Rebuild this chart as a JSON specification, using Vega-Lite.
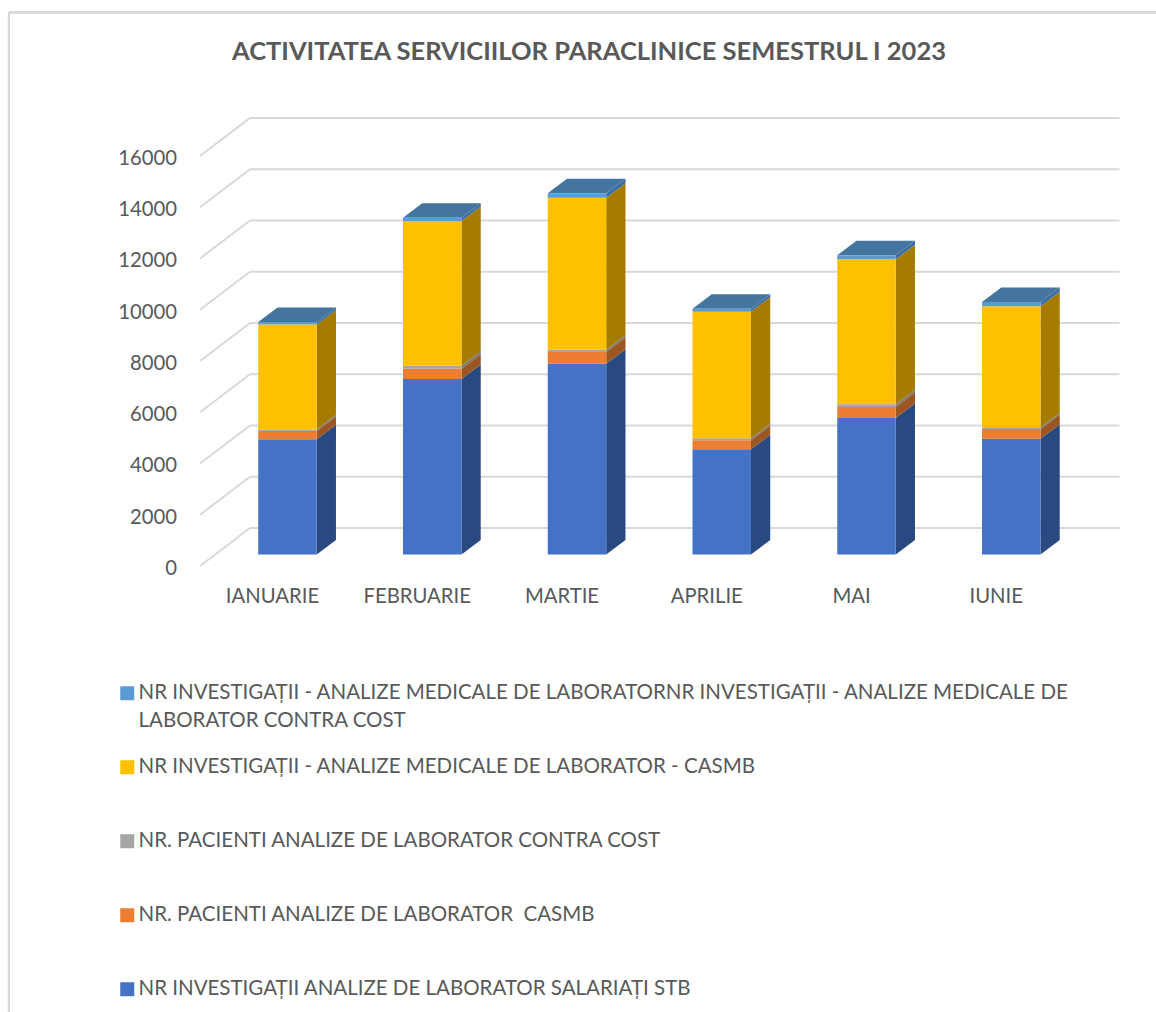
{
"$schema":"https://vega.github.io/schema/vega-lite/v6.json",
"width":1156,"height":1012,"padding":0,"autosize":{"type":"none"},
"background":"white",
"config":{"view":{"stroke":null},"font":"Lato"},
"title":{"text":"ACTIVITATEA SERVICIILOR PARACLINICE SEMESTRUL I 2023","font":"Lato","fontSize":25.5,"fontWeight":"bold","color":"#595959","anchor":"middle","dx":11,"offset":-65},
"datasets":{
"rows":[
{"luna":"IANUARIE","serie":"SALARIATI","valoare":4495},{"luna":"IANUARIE","serie":"CASMB_P","valoare":324},{"luna":"IANUARIE","serie":"COST_P","valoare":60},{"luna":"IANUARIE","serie":"CASMB_I","valoare":4090},{"luna":"IANUARIE","serie":"COST_I","valoare":105},
{"luna":"FEBRUARIE","serie":"SALARIATI","valoare":6847},{"luna":"FEBRUARIE","serie":"CASMB_P","valoare":402},{"luna":"FEBRUARIE","serie":"COST_P","valoare":117},{"luna":"FEBRUARIE","serie":"CASMB_I","valoare":5646},{"luna":"FEBRUARIE","serie":"COST_I","valoare":129},
{"luna":"MARTIE","serie":"SALARIATI","valoare":7444},{"luna":"MARTIE","serie":"CASMB_P","valoare":456},{"luna":"MARTIE","serie":"COST_P","valoare":90},{"luna":"MARTIE","serie":"CASMB_I","valoare":5930},{"luna":"MARTIE","serie":"COST_I","valoare":172},
{"luna":"APRILIE","serie":"SALARIATI","valoare":4105},{"luna":"APRILIE","serie":"CASMB_P","valoare":351},{"luna":"APRILIE","serie":"COST_P","valoare":78},{"luna":"APRILIE","serie":"CASMB_I","valoare":4940},{"luna":"APRILIE","serie":"COST_I","valoare":117},
{"luna":"MAI","serie":"SALARIATI","valoare":5326},{"luna":"MAI","serie":"CASMB_P","valoare":429},{"luna":"MAI","serie":"COST_P","valoare":105},{"luna":"MAI","serie":"CASMB_I","valoare":5657},{"luna":"MAI","serie":"COST_I","valoare":156},
{"luna":"IUNIE","serie":"SALARIATI","valoare":4518},{"luna":"IUNIE","serie":"CASMB_P","valoare":378},{"luna":"IUNIE","serie":"COST_P","valoare":66},{"luna":"IUNIE","serie":"CASMB_I","valoare":4721},{"luna":"IUNIE","serie":"COST_I","valoare":168}
],
"ticks":[{"v":0},{"v":2000},{"v":4000},{"v":6000},{"v":8000},{"v":10000},{"v":12000},{"v":14000},{"v":16000}]
},
"data":{"name":"rows"},
"transform":[
{"calculate":"indexof(['IANUARIE','FEBRUARIE','MARTIE','APRILIE','MAI','IUNIE'],datum.luna)","as":"i"},
{"calculate":"indexof(['SALARIATI','CASMB_P','COST_P','CASMB_I','COST_I'],datum.serie)","as":"o"},
{"stack":"valoare","groupby":["luna"],"sort":[{"field":"o","order":"ascending"}],"as":["s0","s1"]},
{"calculate":"datum.i-0.095","as":"xl"},
{"calculate":"datum.i+0.309","as":"xr"},
{"calculate":"datum.s0+449","as":"f0"},
{"calculate":"datum.s1+449","as":"f1"}
],
"layer":[
{"data":{"name":"ticks"},"transform":[{"calculate":"datum.v+1483","as":"vb"}],
 "mark":{"type":"rule","stroke":"#d9d9d9","strokeWidth":2},
 "encoding":{
  "x":{"datum":-0.497,"type":"quantitative","scale":{"domain":[-1.879,6.107],"nice":false,"zero":false},
   "axis":{"orient":"bottom","offset":-446,"title":null,"grid":false,"domain":false,"ticks":false,"values":[0,1,2,3,4,5],"labelExpr":"['IANUARIE','FEBRUARIE','MARTIE','APRILIE','MAI','IUNIE'][datum.value]","labelFont":"Lato","labelFontSize":20.3,"labelColor":"#595959","labelPadding":20,"labelFlush":false,"labelOverlap":false}},
  "x2":{"datum":-0.152},
  "y":{"field":"v","type":"quantitative","scale":{"domain":[-17402,22084],"nice":false,"zero":false},
   "axis":{"orient":"left","offset":-200,"title":null,"grid":false,"domain":false,"ticks":false,"values":[0,2000,4000,6000,8000,10000,12000,14000,16000],"format":"d","labelFont":"Lato","labelFontSize":20.3,"labelColor":"#595959","labelPadding":23.5,"labelOffset":2.5,"labelOverlap":false}},
  "y2":{"field":"vb"}
 }},
{"data":{"name":"ticks"},"transform":[{"calculate":"datum.v+1483","as":"vb"}],
 "mark":{"type":"rule","stroke":"#d9d9d9","strokeWidth":2},
 "encoding":{"x":{"datum":-0.152,"type":"quantitative"},"x2":{"datum":5.855},"y":{"field":"vb","type":"quantitative"}}},
{"data":{"name":"ticks"},"mark":{"type":"rule","stroke":"#d9d9d9","strokeWidth":2},
 "encoding":{"x":{"datum":-1.817,"type":"quantitative"},"y":{"datum":21596,"type":"quantitative"},"y2":{"datum":-17402}}},
{"data":{"name":"ticks"},"mark":{"type":"rule","stroke":"#d9d9d9","strokeWidth":2},
 "encoding":{"x":{"datum":-1.817,"type":"quantitative"},"x2":{"datum":6.107},"y":{"datum":21596,"type":"quantitative"}}},
{"transform":[{"calculate":"[0,1]","as":"d"},{"flatten":["d"]},{"calculate":"datum.xr+0.133*datum.d","as":"sx"},{"calculate":"datum.f0+566*datum.d","as":"sb"},{"calculate":"datum.f1+566*datum.d","as":"st"}],
 "mark":{"type":"area","orient":"vertical","opacity":1},
 "encoding":{"x":{"field":"sx","type":"quantitative"},"y":{"field":"st","type":"quantitative"},"y2":{"field":"sb"},"detail":{"field":"luna"},
  "color":{"field":"serie","type":"nominal","legend":null,"scale":{"domain":["COST_I","CASMB_I","COST_P","CASMB_P","SALARIATI"],"range":["#3a6fa3","#a67c00","#7d7a70","#9d5521","#294a80"]}}}},
{"transform":[{"filter":"datum.o===4"},{"calculate":"[0,1]","as":"d"},{"flatten":["d"]},{"calculate":"datum.xl+0.133*datum.d","as":"tl"},{"calculate":"datum.xr+0.133*datum.d","as":"tr"},{"calculate":"datum.f1+566*datum.d","as":"ty"}],
 "mark":{"type":"area","orient":"horizontal","color":"#44759f","opacity":1},
 "encoding":{"x":{"field":"tl","type":"quantitative"},"x2":{"field":"tr"},"y":{"field":"ty","type":"quantitative"},"detail":{"field":"luna"}}},
{"mark":{"type":"rect","opacity":1},
 "encoding":{"x":{"field":"xl","type":"quantitative"},"x2":{"field":"xr"},"y":{"field":"f0","type":"quantitative"},"y2":{"field":"f1"},
  "color":{"field":"serie","type":"nominal","scale":{"domain":["COST_I","CASMB_I","COST_P","CASMB_P","SALARIATI"],"range":["#5b9bd5","#ffc000","#a5a5a5","#ed7d31","#4472c4"]},
   "legend":{"orient":"none","legendX":117,"legendY":683,"title":null,"symbolType":"square","symbolSize":196,"symbolOpacity":1,"symbolStrokeWidth":0,"labelFont":"Lato","labelFontSize":20.5,"labelColor":"#595959","labelOffset":1,"labelLimit":1000,"rowPadding":25,"columns":1,"gridAlign":"all",
    "encoding":{"labels":{"lineHeight":{"value":28},"update":{"lineHeight":{"value":28}}}},
    "labelExpr":"datum.label==='COST_I'?['NR INVESTIGAȚII - ANALIZE MEDICALE DE LABORATORNR INVESTIGAȚII - ANALIZE MEDICALE DE','LABORATOR CONTRA COST']:datum.label==='CASMB_I'?'NR INVESTIGAȚII - ANALIZE MEDICALE DE LABORATOR - CASMB':datum.label==='COST_P'?'NR. PACIENTI ANALIZE DE LABORATOR CONTRA COST':datum.label==='CASMB_P'?'NR. PACIENTI ANALIZE DE LABORATOR \u00a0CASMB':'NR INVESTIGAȚII ANALIZE DE LABORATOR SALARIAȚI STB'"}}}}
],
"resolve":{"scale":{"color":"independent"}}
}
